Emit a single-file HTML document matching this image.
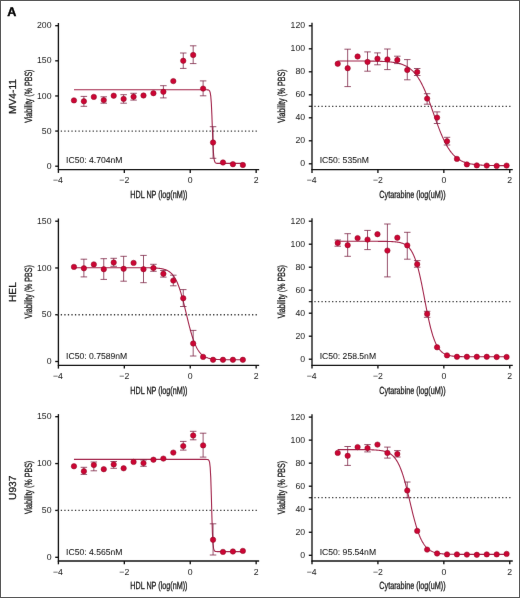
<!DOCTYPE html>
<html><head><meta charset="utf-8"><style>
html,body{margin:0;padding:0;background:#fff;}
body{width:520px;height:598px;overflow:hidden;position:relative;}
#frame{position:absolute;left:0;top:0;width:520px;height:598px;box-sizing:border-box;border:1px solid #575757;}
svg{position:absolute;left:0;top:0;will-change:transform;}
text{font-family:"Liberation Sans",sans-serif;fill:#1a1a1a;stroke:#1a1a1a;stroke-width:0.15px;text-rendering:geometricPrecision;}
.tick text{font-size:8.7px;stroke-width:0.02px;fill:#262626;}
.ttl{font-size:10.4px;stroke-width:0.32px;}
.cell{font-size:10.2px;stroke-width:0.25px;}
.ic{font-size:8.6px;stroke-width:0.08px;}
.lbl{font-size:12.6px;font-weight:bold;fill:#000;stroke:#000;stroke-width:0.4px;}
</style></head><body>
<svg width="520" height="598" viewBox="0 0 520 598">
<defs><filter id="b" x="0" y="0" width="520" height="598" filterUnits="userSpaceOnUse" color-interpolation-filters="sRGB"><feConvolveMatrix order="3" kernelMatrix="0.00163 0.03713 0.00163 0.03713 0.84497 0.03713 0.00163 0.03713 0.00163" divisor="1" edgeMode="none"/></filter></defs><g filter="url(#b)">
<text class="lbl" x="7.2" y="15.7">A</text>
<g stroke="#111111" stroke-width="1.35" fill="none"><line x1="58.4" y1="23" x2="58.4" y2="170.1"/><line x1="55.2" y1="166.2" x2="58.4" y2="166.2"/><line x1="55.2" y1="131.07" x2="58.4" y2="131.07"/><line x1="55.2" y1="95.95" x2="58.4" y2="95.95"/><line x1="55.2" y1="60.82" x2="58.4" y2="60.82"/><line x1="55.2" y1="25.7" x2="58.4" y2="25.7"/><line x1="57.9" y1="169.6" x2="259.16" y2="169.6"/><line x1="58.4" y1="169.6" x2="58.4" y2="172.9"/><line x1="124.32" y1="169.6" x2="124.32" y2="172.9"/><line x1="190.24" y1="169.6" x2="190.24" y2="172.9"/><line x1="256.16" y1="169.6" x2="256.16" y2="172.9"/></g>
<g class="tick"><text x="51.5" y="168.8" text-anchor="end">0</text><text x="51.5" y="133.67" text-anchor="end">50</text><text x="51.5" y="98.55" text-anchor="end">100</text><text x="51.5" y="63.42" text-anchor="end">150</text><text x="51.5" y="28.3" text-anchor="end">200</text><text x="58" y="183.4" text-anchor="middle">−4</text><text x="124.32" y="183.4" text-anchor="middle">−2</text><text x="190.24" y="183.4" text-anchor="middle">0</text><text x="256.16" y="183.4" text-anchor="middle">2</text></g>
<line x1="57.21" y1="131.07" x2="256.9" y2="131.07" stroke="#3a3a3a" stroke-width="1.3" stroke-dasharray="1.3 2.242"/>
<text class="ttl" x="130.28" y="197.8" textLength="57.2" lengthAdjust="spacingAndGlyphs">HDL NP (log(nM))</text>
<text class="ttl" transform="translate(31.5 96.2) rotate(-90)" x="-26.65" y="0" textLength="53.3" lengthAdjust="spacingAndGlyphs">Viability (% PBS)</text>
<text class="cell" transform="translate(16.1 96.5) rotate(-90)" text-anchor="middle">MV4-11</text>
<text class="ic" x="66.1" y="163.1">IC50: 4.704nM</text>
<polyline points="73.96,89.8 74.52,89.8 75.09,89.8 75.65,89.8 76.21,89.8 76.77,89.8 77.34,89.8 77.9,89.8 78.46,89.8 79.03,89.8 79.59,89.8 80.15,89.8 80.72,89.8 81.28,89.8 81.84,89.8 82.4,89.8 82.97,89.8 83.53,89.8 84.09,89.8 84.66,89.8 85.22,89.8 85.78,89.8 86.35,89.8 86.91,89.8 87.47,89.8 88.03,89.8 88.6,89.8 89.16,89.8 89.72,89.8 90.29,89.8 90.85,89.8 91.41,89.8 91.98,89.8 92.54,89.8 93.1,89.8 93.66,89.8 94.23,89.8 94.79,89.8 95.35,89.8 95.92,89.8 96.48,89.8 97.04,89.8 97.61,89.8 98.17,89.8 98.73,89.8 99.29,89.8 99.86,89.8 100.42,89.8 100.98,89.8 101.55,89.8 102.11,89.8 102.67,89.8 103.24,89.8 103.8,89.8 104.36,89.8 104.92,89.8 105.49,89.8 106.05,89.8 106.61,89.8 107.18,89.8 107.74,89.8 108.3,89.8 108.86,89.8 109.43,89.8 109.99,89.8 110.55,89.8 111.12,89.8 111.68,89.8 112.24,89.8 112.81,89.8 113.37,89.8 113.93,89.8 114.49,89.8 115.06,89.8 115.62,89.8 116.18,89.8 116.75,89.8 117.31,89.8 117.87,89.8 118.44,89.8 119,89.8 119.56,89.8 120.12,89.8 120.69,89.8 121.25,89.8 121.81,89.8 122.38,89.8 122.94,89.8 123.5,89.8 124.07,89.8 124.63,89.8 125.19,89.8 125.75,89.8 126.32,89.8 126.88,89.8 127.44,89.8 128.01,89.8 128.57,89.8 129.13,89.8 129.7,89.8 130.26,89.8 130.82,89.8 131.38,89.8 131.95,89.8 132.51,89.8 133.07,89.8 133.64,89.8 134.2,89.8 134.76,89.8 135.33,89.8 135.89,89.8 136.45,89.8 137.01,89.8 137.58,89.8 138.14,89.8 138.7,89.8 139.27,89.8 139.83,89.8 140.39,89.8 140.96,89.8 141.52,89.8 142.08,89.8 142.64,89.8 143.21,89.8 143.77,89.8 144.33,89.8 144.9,89.8 145.46,89.8 146.02,89.8 146.58,89.8 147.15,89.8 147.71,89.8 148.27,89.8 148.84,89.8 149.4,89.8 149.96,89.8 150.53,89.8 151.09,89.8 151.65,89.8 152.21,89.8 152.78,89.8 153.34,89.8 153.9,89.8 154.47,89.8 155.03,89.8 155.59,89.8 156.16,89.8 156.72,89.8 157.28,89.8 157.84,89.8 158.41,89.8 158.97,89.8 159.53,89.8 160.1,89.8 160.66,89.8 161.22,89.8 161.79,89.8 162.35,89.8 162.91,89.8 163.47,89.8 164.04,89.8 164.6,89.8 165.16,89.8 165.73,89.8 166.29,89.8 166.85,89.8 167.42,89.8 167.98,89.8 168.54,89.8 169.1,89.8 169.67,89.8 170.23,89.8 170.79,89.8 171.36,89.8 171.92,89.8 172.48,89.8 173.05,89.8 173.61,89.8 174.17,89.8 174.73,89.8 175.3,89.8 175.86,89.8 176.42,89.8 176.99,89.8 177.55,89.8 178.11,89.8 178.67,89.8 179.24,89.8 179.8,89.8 180.36,89.8 180.93,89.8 181.49,89.8 182.05,89.8 182.62,89.8 183.18,89.8 183.74,89.8 184.3,89.8 184.87,89.8 185.43,89.8 185.99,89.8 186.56,89.8 187.12,89.8 187.68,89.8 188.25,89.8 188.81,89.8 189.37,89.8 189.93,89.8 190.5,89.8 191.06,89.8 191.62,89.8 192.19,89.8 192.75,89.8 193.31,89.8 193.88,89.8 194.44,89.8 195,89.8 195.56,89.8 196.13,89.8 196.69,89.8 197.25,89.8 197.82,89.8 198.38,89.8 198.94,89.8 199.51,89.8 200.07,89.8 200.63,89.8 201.19,89.8 201.76,89.8 202.32,89.8 202.88,89.8 203.45,89.8 204.01,89.8 204.57,89.8 205.14,89.8 205.7,89.8 206.26,89.81 206.82,89.82 207.39,89.84 207.95,89.89 208.51,90.02 209.08,90.32 209.64,91.01 210.2,92.62 210.76,96.15 211.33,103.29 211.89,115.4 212.45,130.93 213.02,145.04 213.58,154.37 214.14,159.31 214.71,161.62 215.27,162.64 215.83,163.08 216.39,163.26 216.96,163.34 217.52,163.38 218.08,163.39 218.65,163.4 219.21,163.4 219.77,163.4 220.34,163.4 220.9,163.4 221.46,163.4 222.02,163.4 222.59,163.4 223.15,163.4 223.71,163.4 224.28,163.4 224.84,163.4 225.4,163.4 225.97,163.4 226.53,163.4 227.09,163.4 227.65,163.4 228.22,163.4 228.78,163.4 229.34,163.4 229.91,163.4 230.47,163.4 231.03,163.4 231.6,163.4 232.16,163.4 232.72,163.4 233.28,163.4 233.85,163.4 234.41,163.4 234.97,163.4 235.54,163.4 236.1,163.4 236.66,163.4 237.23,163.4 237.79,163.4 238.35,163.4 238.91,163.4 239.48,163.4 240.04,163.4 240.6,163.4 241.17,163.4 241.73,163.4 242.29,163.4 242.86,163.4" fill="none" stroke="#a2244a" stroke-width="1.1"/>
<path d="M83.89 96.4V106.3M80.64 96.4H87.14M80.64 106.3H87.14M103.76 96.8V103.2M100.51 96.8H107.01M100.51 103.2H107.01M123.63 94.7V103.2M120.38 94.7H126.88M120.38 103.2H126.88M133.57 93.3V100.1M130.32 93.3H136.82M130.32 100.1H136.82M163.38 85.7V97.9M160.12 85.7H166.62M160.12 97.9H166.62M183.25 53V68.4M180 53H186.5M180 68.4H186.5M193.18 45.8V63.6M189.93 45.8H196.43M189.93 63.6H196.43M203.12 80.9V95.8M199.87 80.9H206.37M199.87 95.8H206.37M213.05 126.7V158.3M209.8 126.7H216.3M209.8 158.3H216.3" stroke="#7e2646" stroke-width="0.8" fill="none"/>
<g fill="#cc0534" stroke="#900c29" stroke-width="0.55"><circle cx="73.96" cy="100.4" r="2.7"/><circle cx="83.89" cy="101.3" r="2.7"/><circle cx="93.83" cy="96.9" r="2.7"/><circle cx="103.76" cy="100.1" r="2.7"/><circle cx="113.7" cy="95.7" r="2.7"/><circle cx="123.63" cy="98.9" r="2.7"/><circle cx="133.57" cy="96.8" r="2.7"/><circle cx="143.5" cy="95.5" r="2.7"/><circle cx="153.44" cy="93.2" r="2.7"/><circle cx="163.38" cy="91.8" r="2.7"/><circle cx="173.31" cy="81.1" r="2.7"/><circle cx="183.25" cy="60.8" r="2.7"/><circle cx="193.18" cy="55" r="2.7"/><circle cx="203.12" cy="88.6" r="2.7"/><circle cx="213.05" cy="142.5" r="2.7"/><circle cx="222.99" cy="162.5" r="2.7"/><circle cx="232.92" cy="164.2" r="2.7"/><circle cx="242.86" cy="165" r="2.7"/></g>
<g stroke="#111111" stroke-width="1.35" fill="none"><line x1="312" y1="22.7" x2="312" y2="170.1"/><line x1="308.8" y1="163.8" x2="312" y2="163.8"/><line x1="308.8" y1="140.8" x2="312" y2="140.8"/><line x1="308.8" y1="117.8" x2="312" y2="117.8"/><line x1="308.8" y1="94.8" x2="312" y2="94.8"/><line x1="308.8" y1="71.8" x2="312" y2="71.8"/><line x1="308.8" y1="48.8" x2="312" y2="48.8"/><line x1="308.8" y1="25.8" x2="312" y2="25.8"/><line x1="311.5" y1="169.6" x2="512.76" y2="169.6"/><line x1="312" y1="169.6" x2="312" y2="172.9"/><line x1="377.92" y1="169.6" x2="377.92" y2="172.9"/><line x1="443.84" y1="169.6" x2="443.84" y2="172.9"/><line x1="509.76" y1="169.6" x2="509.76" y2="172.9"/></g>
<g class="tick"><text x="305.1" y="166.4" text-anchor="end">0</text><text x="305.1" y="143.4" text-anchor="end">20</text><text x="305.1" y="120.4" text-anchor="end">40</text><text x="305.1" y="97.4" text-anchor="end">60</text><text x="305.1" y="74.4" text-anchor="end">80</text><text x="305.1" y="51.4" text-anchor="end">100</text><text x="305.1" y="28.4" text-anchor="end">120</text><text x="311.6" y="183.4" text-anchor="middle">−4</text><text x="377.92" y="183.4" text-anchor="middle">−2</text><text x="443.84" y="183.4" text-anchor="middle">0</text><text x="509.76" y="183.4" text-anchor="middle">2</text></g>
<line x1="310.81" y1="106.3" x2="510.5" y2="106.3" stroke="#3a3a3a" stroke-width="1.3" stroke-dasharray="1.3 2.242"/>
<line x1="308.8" y1="106.3" x2="312" y2="106.3" stroke="#111111" stroke-width="1.1"/>
<text class="ttl" x="379.33" y="197.8" textLength="66.3" lengthAdjust="spacingAndGlyphs">Cytarabine (log(uM))</text>
<text class="ttl" transform="translate(285.1 96.05) rotate(-90)" x="-26.65" y="0" textLength="53.3" lengthAdjust="spacingAndGlyphs">Viability (% PBS)</text>
<text class="ic" x="319.7" y="163.1">IC50: 535nM</text>
<polyline points="337.72,61 338.28,61 338.85,61 339.41,61 339.97,61 340.53,61 341.1,61 341.66,61.01 342.22,61.01 342.79,61.01 343.35,61.01 343.91,61.01 344.48,61.01 345.04,61.01 345.6,61.01 346.16,61.01 346.73,61.01 347.29,61.01 347.85,61.01 348.42,61.01 348.98,61.01 349.54,61.01 350.11,61.01 350.67,61.01 351.23,61.01 351.79,61.02 352.36,61.02 352.92,61.02 353.48,61.02 354.05,61.02 354.61,61.02 355.17,61.02 355.74,61.02 356.3,61.02 356.86,61.03 357.42,61.03 357.99,61.03 358.55,61.03 359.11,61.03 359.68,61.04 360.24,61.04 360.8,61.04 361.37,61.04 361.93,61.05 362.49,61.05 363.05,61.05 363.62,61.05 364.18,61.06 364.74,61.06 365.31,61.06 365.87,61.07 366.43,61.07 367,61.08 367.56,61.08 368.12,61.09 368.68,61.09 369.25,61.1 369.81,61.11 370.37,61.11 370.94,61.12 371.5,61.13 372.06,61.13 372.62,61.14 373.19,61.15 373.75,61.16 374.31,61.17 374.88,61.18 375.44,61.19 376,61.21 376.57,61.22 377.13,61.23 377.69,61.25 378.25,61.26 378.82,61.28 379.38,61.3 379.94,61.32 380.51,61.34 381.07,61.36 381.63,61.38 382.2,61.4 382.76,61.43 383.32,61.46 383.88,61.48 384.45,61.51 385.01,61.55 385.57,61.58 386.14,61.62 386.7,61.66 387.26,61.7 387.83,61.74 388.39,61.79 388.95,61.83 389.51,61.89 390.08,61.94 390.64,62 391.2,62.06 391.77,62.13 392.33,62.2 392.89,62.27 393.46,62.35 394.02,62.44 394.58,62.53 395.14,62.62 395.71,62.72 396.27,62.83 396.83,62.94 397.4,63.06 397.96,63.18 398.52,63.32 399.09,63.46 399.65,63.61 400.21,63.77 400.77,63.94 401.34,64.12 401.9,64.31 402.46,64.51 403.03,64.72 403.59,64.95 404.15,65.19 404.72,65.44 405.28,65.71 405.84,65.99 406.4,66.29 406.97,66.6 407.53,66.93 408.09,67.28 408.66,67.65 409.22,68.04 409.78,68.46 410.34,68.89 410.91,69.35 411.47,69.83 412.03,70.33 412.6,70.86 413.16,71.42 413.72,72.01 414.29,72.62 414.85,73.27 415.41,73.94 415.97,74.65 416.54,75.39 417.1,76.16 417.66,76.97 418.23,77.81 418.79,78.69 419.35,79.61 419.92,80.56 420.48,81.55 421.04,82.57 421.6,83.63 422.17,84.73 422.73,85.87 423.29,87.05 423.86,88.26 424.42,89.5 424.98,90.79 425.55,92.1 426.11,93.45 426.67,94.83 427.23,96.24 427.8,97.68 428.36,99.15 428.92,100.64 429.49,102.15 430.05,103.68 430.61,105.23 431.18,106.8 431.74,108.37 432.3,109.96 432.86,111.55 433.43,113.14 433.99,114.74 434.55,116.33 435.12,117.92 435.68,119.5 436.24,121.07 436.81,122.62 437.37,124.16 437.93,125.67 438.49,127.17 439.06,128.64 439.62,130.09 440.18,131.51 440.75,132.89 441.31,134.25 441.87,135.58 442.43,136.87 443,138.12 443.56,139.34 444.12,140.53 444.69,141.68 445.25,142.79 445.81,143.86 446.38,144.89 446.94,145.89 447.5,146.85 448.06,147.77 448.63,148.66 449.19,149.51 449.75,150.33 450.32,151.11 450.88,151.86 451.44,152.58 452.01,153.26 452.57,153.91 453.13,154.54 453.69,155.13 454.26,155.7 454.82,156.23 455.38,156.75 455.95,157.23 456.51,157.7 457.07,158.13 457.64,158.55 458.2,158.95 458.76,159.32 459.32,159.68 459.89,160.01 460.45,160.33 461.01,160.64 461.58,160.92 462.14,161.19 462.7,161.45 463.27,161.69 463.83,161.92 464.39,162.13 464.95,162.34 465.52,162.53 466.08,162.71 466.64,162.88 467.21,163.05 467.77,163.2 468.33,163.34 468.9,163.48 469.46,163.61 470.02,163.73 470.58,163.85 471.15,163.95 471.71,164.05 472.27,164.15 472.84,164.24 473.4,164.33 473.96,164.41 474.52,164.48 475.09,164.55 475.65,164.62 476.21,164.68 476.78,164.74 477.34,164.8 477.9,164.85 478.47,164.9 479.03,164.95 479.59,164.99 480.15,165.03 480.72,165.07 481.28,165.11 481.84,165.15 482.41,165.18 482.97,165.21 483.53,165.24 484.1,165.26 484.66,165.29 485.22,165.31 485.78,165.34 486.35,165.36 486.91,165.38 487.47,165.4 488.04,165.42 488.6,165.43 489.16,165.45 489.73,165.46 490.29,165.48 490.85,165.49 491.41,165.5 491.98,165.51 492.54,165.53 493.1,165.54 493.67,165.55 494.23,165.55 494.79,165.56 495.36,165.57 495.92,165.58 496.48,165.59 497.04,165.59 497.61,165.6 498.17,165.6 498.73,165.61 499.3,165.62 499.86,165.62 500.42,165.63 500.99,165.63 501.55,165.63 502.11,165.64 502.67,165.64 503.24,165.65 503.8,165.65 504.36,165.65 504.93,165.65 505.49,165.66 506.05,165.66 506.62,165.66" fill="none" stroke="#a2244a" stroke-width="1.1"/>
<path d="M347.66 49.2V86.6M344.41 49.2H350.91M344.41 86.6H350.91M367.53 51.9V71.2M364.28 51.9H370.78M364.28 71.2H370.78M377.46 52.9V64.8M374.21 52.9H380.71M374.21 64.8H380.71M387.4 49V69.6M384.15 49H390.65M384.15 69.6H390.65M397.33 56.2V63.6M394.08 56.2H400.58M394.08 63.6H400.58M407.27 59.6V79.8M404.02 59.6H410.52M404.02 79.8H410.52M417.2 68.5V75.5M413.95 68.5H420.45M413.95 75.5H420.45M427.14 93.7V104.2M423.89 93.7H430.39M423.89 104.2H430.39M437.07 111.9V123.5M433.82 111.9H440.32M433.82 123.5H440.32M447.01 137.3V145M443.76 137.3H450.26M443.76 145H450.26" stroke="#7e2646" stroke-width="0.8" fill="none"/>
<g fill="#cc0534" stroke="#900c29" stroke-width="0.55"><circle cx="337.72" cy="63.8" r="2.7"/><circle cx="347.66" cy="68.2" r="2.7"/><circle cx="357.59" cy="56.5" r="2.7"/><circle cx="367.53" cy="61.9" r="2.7"/><circle cx="377.46" cy="58.7" r="2.7"/><circle cx="387.4" cy="59.4" r="2.7"/><circle cx="397.33" cy="60" r="2.7"/><circle cx="407.27" cy="70" r="2.7"/><circle cx="417.2" cy="72" r="2.7"/><circle cx="427.14" cy="98.6" r="2.7"/><circle cx="437.07" cy="117.6" r="2.7"/><circle cx="447.01" cy="141.3" r="2.7"/><circle cx="456.94" cy="158.9" r="2.7"/><circle cx="466.88" cy="164.4" r="2.7"/><circle cx="476.81" cy="165.4" r="2.7"/><circle cx="486.75" cy="165.6" r="2.7"/><circle cx="496.68" cy="165.9" r="2.7"/><circle cx="506.62" cy="165.6" r="2.7"/></g>
<g stroke="#111111" stroke-width="1.35" fill="none"><line x1="58.4" y1="218.5" x2="58.4" y2="365.8"/><line x1="55.2" y1="361.5" x2="58.4" y2="361.5"/><line x1="55.2" y1="314.73" x2="58.4" y2="314.73"/><line x1="55.2" y1="267.97" x2="58.4" y2="267.97"/><line x1="55.2" y1="221.2" x2="58.4" y2="221.2"/><line x1="57.9" y1="365.3" x2="259.16" y2="365.3"/><line x1="58.4" y1="365.3" x2="58.4" y2="368.6"/><line x1="124.32" y1="365.3" x2="124.32" y2="368.6"/><line x1="190.24" y1="365.3" x2="190.24" y2="368.6"/><line x1="256.16" y1="365.3" x2="256.16" y2="368.6"/></g>
<g class="tick"><text x="51.5" y="364.1" text-anchor="end">0</text><text x="51.5" y="317.33" text-anchor="end">50</text><text x="51.5" y="270.57" text-anchor="end">100</text><text x="51.5" y="223.8" text-anchor="end">150</text><text x="58" y="379.1" text-anchor="middle">−4</text><text x="124.32" y="379.1" text-anchor="middle">−2</text><text x="190.24" y="379.1" text-anchor="middle">0</text><text x="256.16" y="379.1" text-anchor="middle">2</text></g>
<line x1="57.21" y1="314.73" x2="256.9" y2="314.73" stroke="#3a3a3a" stroke-width="1.3" stroke-dasharray="1.3 2.242"/>
<text class="ttl" x="130.28" y="393.5" textLength="57.2" lengthAdjust="spacingAndGlyphs">HDL NP (log(nM))</text>
<text class="ttl" transform="translate(31.5 291.8) rotate(-90)" x="-26.65" y="0" textLength="53.3" lengthAdjust="spacingAndGlyphs">Viability (% PBS)</text>
<text class="cell" transform="translate(16.1 292.1) rotate(-90)" text-anchor="middle">HEL</text>
<text class="ic" x="66.1" y="358.8">IC50: 0.7589nM</text>
<polyline points="73.96,267.7 74.52,267.7 75.09,267.7 75.65,267.7 76.21,267.7 76.77,267.7 77.34,267.7 77.9,267.7 78.46,267.7 79.03,267.7 79.59,267.7 80.15,267.7 80.72,267.7 81.28,267.7 81.84,267.7 82.4,267.7 82.97,267.7 83.53,267.7 84.09,267.7 84.66,267.7 85.22,267.7 85.78,267.7 86.35,267.7 86.91,267.7 87.47,267.7 88.03,267.7 88.6,267.7 89.16,267.7 89.72,267.7 90.29,267.7 90.85,267.7 91.41,267.7 91.98,267.7 92.54,267.7 93.1,267.7 93.66,267.7 94.23,267.7 94.79,267.7 95.35,267.7 95.92,267.7 96.48,267.7 97.04,267.7 97.61,267.7 98.17,267.7 98.73,267.7 99.29,267.7 99.86,267.7 100.42,267.7 100.98,267.7 101.55,267.7 102.11,267.7 102.67,267.7 103.24,267.7 103.8,267.7 104.36,267.7 104.92,267.7 105.49,267.7 106.05,267.7 106.61,267.7 107.18,267.7 107.74,267.7 108.3,267.7 108.86,267.7 109.43,267.7 109.99,267.7 110.55,267.7 111.12,267.7 111.68,267.7 112.24,267.7 112.81,267.7 113.37,267.7 113.93,267.7 114.49,267.7 115.06,267.7 115.62,267.7 116.18,267.7 116.75,267.7 117.31,267.7 117.87,267.7 118.44,267.7 119,267.7 119.56,267.7 120.12,267.7 120.69,267.7 121.25,267.7 121.81,267.7 122.38,267.7 122.94,267.7 123.5,267.7 124.07,267.7 124.63,267.7 125.19,267.7 125.75,267.7 126.32,267.7 126.88,267.7 127.44,267.7 128.01,267.7 128.57,267.7 129.13,267.7 129.7,267.7 130.26,267.7 130.82,267.7 131.38,267.7 131.95,267.7 132.51,267.71 133.07,267.71 133.64,267.71 134.2,267.71 134.76,267.71 135.33,267.71 135.89,267.71 136.45,267.71 137.01,267.71 137.58,267.71 138.14,267.71 138.7,267.72 139.27,267.72 139.83,267.72 140.39,267.72 140.96,267.72 141.52,267.73 142.08,267.73 142.64,267.73 143.21,267.74 143.77,267.74 144.33,267.75 144.9,267.75 145.46,267.76 146.02,267.76 146.58,267.77 147.15,267.78 147.71,267.78 148.27,267.79 148.84,267.8 149.4,267.81 149.96,267.83 150.53,267.84 151.09,267.85 151.65,267.87 152.21,267.89 152.78,267.91 153.34,267.93 153.9,267.96 154.47,267.98 155.03,268.01 155.59,268.05 156.16,268.08 156.72,268.13 157.28,268.17 157.84,268.22 158.41,268.28 158.97,268.34 159.53,268.41 160.1,268.48 160.66,268.57 161.22,268.66 161.79,268.76 162.35,268.87 162.91,269 163.47,269.14 164.04,269.29 164.6,269.45 165.16,269.64 165.73,269.84 166.29,270.07 166.85,270.32 167.42,270.59 167.98,270.89 168.54,271.22 169.1,271.58 169.67,271.98 170.23,272.42 170.79,272.9 171.36,273.42 171.92,274 172.48,274.62 173.05,275.31 173.61,276.05 174.17,276.86 174.73,277.74 175.3,278.69 175.86,279.72 176.42,280.83 176.99,282.03 177.55,283.31 178.11,284.68 178.67,286.14 179.24,287.69 179.8,289.34 180.36,291.08 180.93,292.91 181.49,294.82 182.05,296.82 182.62,298.89 183.18,301.04 183.74,303.24 184.3,305.5 184.87,307.79 185.43,310.12 185.99,312.47 186.56,314.82 187.12,317.17 187.68,319.5 188.25,321.8 188.81,324.06 189.37,326.27 189.93,328.42 190.5,330.5 191.06,332.51 191.62,334.43 192.19,336.26 192.75,338.01 193.31,339.66 193.88,341.23 194.44,342.7 195,344.08 195.56,345.36 196.13,346.57 196.69,347.68 197.25,348.72 197.82,349.68 198.38,350.56 198.94,351.38 199.51,352.13 200.07,352.82 200.63,353.45 201.19,354.03 201.76,354.56 202.32,355.04 202.88,355.48 203.45,355.88 204.01,356.25 204.57,356.58 205.14,356.89 205.7,357.16 206.26,357.41 206.82,357.64 207.39,357.84 207.95,358.03 208.51,358.2 209.08,358.35 209.64,358.49 210.2,358.62 210.76,358.73 211.33,358.83 211.89,358.93 212.45,359.01 213.02,359.09 213.58,359.16 214.14,359.22 214.71,359.27 215.27,359.32 215.83,359.37 216.39,359.41 216.96,359.45 217.52,359.48 218.08,359.51 218.65,359.54 219.21,359.57 219.77,359.59 220.34,359.61 220.9,359.63 221.46,359.65 222.02,359.66 222.59,359.67 223.15,359.69 223.71,359.7 224.28,359.71 224.84,359.72 225.4,359.72 225.97,359.73 226.53,359.74 227.09,359.74 227.65,359.75 228.22,359.75 228.78,359.76 229.34,359.76 229.91,359.77 230.47,359.77 231.03,359.77 231.6,359.78 232.16,359.78 232.72,359.78 233.28,359.78 233.85,359.78 234.41,359.79 234.97,359.79 235.54,359.79 236.1,359.79 236.66,359.79 237.23,359.79 237.79,359.79 238.35,359.79 238.91,359.79 239.48,359.79 240.04,359.79 240.6,359.8 241.17,359.8 241.73,359.8 242.29,359.8 242.86,359.8" fill="none" stroke="#a2244a" stroke-width="1.1"/>
<path d="M83.89 259.2V276.9M80.64 259.2H87.14M80.64 276.9H87.14M103.76 258.7V279.4M100.51 258.7H107.01M100.51 279.4H107.01M113.7 258.3V266.3M110.45 258.3H116.95M110.45 266.3H116.95M123.63 256.3V281.2M120.38 256.3H126.88M120.38 281.2H126.88M143.5 255.4V282.7M140.25 255.4H146.75M140.25 282.7H146.75M153.44 264.3V271.3M150.19 264.3H156.69M150.19 271.3H156.69M163.38 270.5V277.1M160.12 270.5H166.62M160.12 277.1H166.62M173.31 275.2V285.8M170.06 275.2H176.56M170.06 285.8H176.56M183.25 289.6V306.5M180 289.6H186.5M180 306.5H186.5M193.18 330.4V356M189.93 330.4H196.43M189.93 356H196.43" stroke="#7e2646" stroke-width="0.8" fill="none"/>
<g fill="#cc0534" stroke="#900c29" stroke-width="0.55"><circle cx="73.96" cy="266.9" r="2.7"/><circle cx="83.89" cy="268.3" r="2.7"/><circle cx="93.83" cy="264.4" r="2.7"/><circle cx="103.76" cy="269.2" r="2.7"/><circle cx="113.7" cy="262.5" r="2.7"/><circle cx="123.63" cy="268.8" r="2.7"/><circle cx="133.57" cy="262.9" r="2.7"/><circle cx="143.5" cy="269.2" r="2.7"/><circle cx="153.44" cy="268" r="2.7"/><circle cx="163.38" cy="273.8" r="2.7"/><circle cx="173.31" cy="280.6" r="2.7"/><circle cx="183.25" cy="298.3" r="2.7"/><circle cx="193.18" cy="343.5" r="2.7"/><circle cx="203.12" cy="356.9" r="2.7"/><circle cx="213.05" cy="359.8" r="2.7"/><circle cx="222.99" cy="359.8" r="2.7"/><circle cx="232.92" cy="359.8" r="2.7"/><circle cx="242.86" cy="359.8" r="2.7"/></g>
<g stroke="#111111" stroke-width="1.35" fill="none"><line x1="312" y1="218.3" x2="312" y2="365.8"/><line x1="308.8" y1="359.2" x2="312" y2="359.2"/><line x1="308.8" y1="336.2" x2="312" y2="336.2"/><line x1="308.8" y1="313.2" x2="312" y2="313.2"/><line x1="308.8" y1="290.2" x2="312" y2="290.2"/><line x1="308.8" y1="267.2" x2="312" y2="267.2"/><line x1="308.8" y1="244.2" x2="312" y2="244.2"/><line x1="308.8" y1="221.2" x2="312" y2="221.2"/><line x1="311.5" y1="365.3" x2="512.76" y2="365.3"/><line x1="312" y1="365.3" x2="312" y2="368.6"/><line x1="377.92" y1="365.3" x2="377.92" y2="368.6"/><line x1="443.84" y1="365.3" x2="443.84" y2="368.6"/><line x1="509.76" y1="365.3" x2="509.76" y2="368.6"/></g>
<g class="tick"><text x="305.1" y="361.8" text-anchor="end">0</text><text x="305.1" y="338.8" text-anchor="end">20</text><text x="305.1" y="315.8" text-anchor="end">40</text><text x="305.1" y="292.8" text-anchor="end">60</text><text x="305.1" y="269.8" text-anchor="end">80</text><text x="305.1" y="246.8" text-anchor="end">100</text><text x="305.1" y="223.8" text-anchor="end">120</text><text x="311.6" y="379.1" text-anchor="middle">−4</text><text x="377.92" y="379.1" text-anchor="middle">−2</text><text x="443.84" y="379.1" text-anchor="middle">0</text><text x="509.76" y="379.1" text-anchor="middle">2</text></g>
<line x1="310.81" y1="301.7" x2="510.5" y2="301.7" stroke="#3a3a3a" stroke-width="1.3" stroke-dasharray="1.3 2.242"/>
<line x1="308.8" y1="301.7" x2="312" y2="301.7" stroke="#111111" stroke-width="1.1"/>
<text class="ttl" x="379.33" y="393.5" textLength="66.3" lengthAdjust="spacingAndGlyphs">Cytarabine (log(uM))</text>
<text class="ttl" transform="translate(285.1 291.7) rotate(-90)" x="-26.65" y="0" textLength="53.3" lengthAdjust="spacingAndGlyphs">Viability (% PBS)</text>
<text class="ic" x="319.7" y="358.8">IC50: 258.5nM</text>
<polyline points="337.72,241.3 338.28,241.3 338.85,241.3 339.41,241.3 339.97,241.3 340.53,241.3 341.1,241.3 341.66,241.3 342.22,241.3 342.79,241.3 343.35,241.3 343.91,241.3 344.48,241.3 345.04,241.3 345.6,241.3 346.16,241.3 346.73,241.3 347.29,241.3 347.85,241.3 348.42,241.3 348.98,241.3 349.54,241.3 350.11,241.3 350.67,241.3 351.23,241.3 351.79,241.3 352.36,241.3 352.92,241.3 353.48,241.3 354.05,241.3 354.61,241.3 355.17,241.3 355.74,241.3 356.3,241.3 356.86,241.3 357.42,241.3 357.99,241.3 358.55,241.3 359.11,241.3 359.68,241.3 360.24,241.3 360.8,241.3 361.37,241.3 361.93,241.3 362.49,241.3 363.05,241.3 363.62,241.3 364.18,241.3 364.74,241.3 365.31,241.3 365.87,241.3 366.43,241.3 367,241.3 367.56,241.3 368.12,241.3 368.68,241.3 369.25,241.3 369.81,241.31 370.37,241.31 370.94,241.31 371.5,241.31 372.06,241.31 372.62,241.31 373.19,241.31 373.75,241.31 374.31,241.31 374.88,241.31 375.44,241.32 376,241.32 376.57,241.32 377.13,241.32 377.69,241.32 378.25,241.33 378.82,241.33 379.38,241.33 379.94,241.33 380.51,241.34 381.07,241.34 381.63,241.35 382.2,241.35 382.76,241.36 383.32,241.36 383.88,241.37 384.45,241.38 385.01,241.39 385.57,241.4 386.14,241.41 386.7,241.42 387.26,241.43 387.83,241.44 388.39,241.46 388.95,241.48 389.51,241.5 390.08,241.52 390.64,241.54 391.2,241.57 391.77,241.6 392.33,241.63 392.89,241.66 393.46,241.7 394.02,241.75 394.58,241.79 395.14,241.85 395.71,241.9 396.27,241.97 396.83,242.04 397.4,242.12 397.96,242.21 398.52,242.3 399.09,242.41 399.65,242.53 400.21,242.66 400.77,242.8 401.34,242.96 401.9,243.14 402.46,243.34 403.03,243.55 403.59,243.79 404.15,244.05 404.72,244.34 405.28,244.65 405.84,245 406.4,245.39 406.97,245.81 407.53,246.28 408.09,246.79 408.66,247.35 409.22,247.96 409.78,248.63 410.34,249.37 410.91,250.17 411.47,251.04 412.03,251.99 412.6,253.03 413.16,254.15 413.72,255.37 414.29,256.68 414.85,258.09 415.41,259.61 415.97,261.25 416.54,262.99 417.1,264.85 417.66,266.82 418.23,268.92 418.79,271.12 419.35,273.44 419.92,275.86 420.48,278.39 421.04,281.01 421.6,283.72 422.17,286.5 422.73,289.34 423.29,292.23 423.86,295.16 424.42,298.1 424.98,301.05 425.55,304 426.11,306.91 426.67,309.79 427.23,312.61 427.8,315.36 428.36,318.04 428.92,320.63 429.49,323.12 430.05,325.5 430.61,327.78 431.18,329.95 431.74,332 432.3,333.93 432.86,335.75 433.43,337.45 433.99,339.04 434.55,340.53 435.12,341.9 435.68,343.18 436.24,344.36 436.81,345.45 437.37,346.46 437.93,347.38 438.49,348.23 439.06,349 439.62,349.72 440.18,350.37 440.75,350.96 441.31,351.5 441.87,352 442.43,352.44 443,352.85 443.56,353.23 444.12,353.56 444.69,353.87 445.25,354.15 445.81,354.4 446.38,354.63 446.94,354.84 447.5,355.02 448.06,355.19 448.63,355.35 449.19,355.49 449.75,355.61 450.32,355.73 450.88,355.83 451.44,355.93 452.01,356.01 452.57,356.09 453.13,356.16 453.69,356.22 454.26,356.27 454.82,356.32 455.38,356.37 455.95,356.41 456.51,356.45 457.07,356.48 457.64,356.51 458.2,356.54 458.76,356.57 459.32,356.59 459.89,356.61 460.45,356.63 461.01,356.65 461.58,356.66 462.14,356.67 462.7,356.69 463.27,356.7 463.83,356.71 464.39,356.72 464.95,356.72 465.52,356.73 466.08,356.74 466.64,356.74 467.21,356.75 467.77,356.75 468.33,356.76 468.9,356.76 469.46,356.77 470.02,356.77 470.58,356.77 471.15,356.78 471.71,356.78 472.27,356.78 472.84,356.78 473.4,356.78 473.96,356.79 474.52,356.79 475.09,356.79 475.65,356.79 476.21,356.79 476.78,356.79 477.34,356.79 477.9,356.79 478.47,356.79 479.03,356.79 479.59,356.79 480.15,356.8 480.72,356.8 481.28,356.8 481.84,356.8 482.41,356.8 482.97,356.8 483.53,356.8 484.1,356.8 484.66,356.8 485.22,356.8 485.78,356.8 486.35,356.8 486.91,356.8 487.47,356.8 488.04,356.8 488.6,356.8 489.16,356.8 489.73,356.8 490.29,356.8 490.85,356.8 491.41,356.8 491.98,356.8 492.54,356.8 493.1,356.8 493.67,356.8 494.23,356.8 494.79,356.8 495.36,356.8 495.92,356.8 496.48,356.8 497.04,356.8 497.61,356.8 498.17,356.8 498.73,356.8 499.3,356.8 499.86,356.8 500.42,356.8 500.99,356.8 501.55,356.8 502.11,356.8 502.67,356.8 503.24,356.8 503.8,356.8 504.36,356.8 504.93,356.8 505.49,356.8 506.05,356.8 506.62,356.8" fill="none" stroke="#a2244a" stroke-width="1.1"/>
<path d="M337.72 240V246.2M334.47 240H340.97M334.47 246.2H340.97M347.66 233.7V256.3M344.41 233.7H350.91M344.41 256.3H350.91M367.53 230.4V249.6M364.28 230.4H370.78M364.28 249.6H370.78M387.4 224V276.9M384.15 224H390.65M384.15 276.9H390.65M407.27 232.3V259.2M404.02 232.3H410.52M404.02 259.2H410.52M417.2 260.6V267.2M413.95 260.6H420.45M413.95 267.2H420.45M427.14 311.3V317.3M423.89 311.3H430.39M423.89 317.3H430.39" stroke="#7e2646" stroke-width="0.8" fill="none"/>
<g fill="#cc0534" stroke="#900c29" stroke-width="0.55"><circle cx="337.72" cy="242.9" r="2.7"/><circle cx="347.66" cy="245.2" r="2.7"/><circle cx="357.59" cy="238.1" r="2.7"/><circle cx="367.53" cy="239.6" r="2.7"/><circle cx="377.46" cy="234.2" r="2.7"/><circle cx="387.4" cy="250.6" r="2.7"/><circle cx="397.33" cy="237.7" r="2.7"/><circle cx="407.27" cy="245.4" r="2.7"/><circle cx="417.2" cy="264.2" r="2.7"/><circle cx="427.14" cy="313.9" r="2.7"/><circle cx="437.07" cy="347.3" r="2.7"/><circle cx="447.01" cy="355.4" r="2.7"/><circle cx="456.94" cy="356.8" r="2.7"/><circle cx="466.88" cy="356.8" r="2.7"/><circle cx="476.81" cy="356.8" r="2.7"/><circle cx="486.75" cy="356.8" r="2.7"/><circle cx="496.68" cy="357" r="2.7"/><circle cx="506.62" cy="357" r="2.7"/></g>
<g stroke="#111111" stroke-width="1.35" fill="none"><line x1="58.4" y1="414.1" x2="58.4" y2="561.5"/><line x1="55.2" y1="557.3" x2="58.4" y2="557.3"/><line x1="55.2" y1="510.43" x2="58.4" y2="510.43"/><line x1="55.2" y1="463.57" x2="58.4" y2="463.57"/><line x1="55.2" y1="416.7" x2="58.4" y2="416.7"/><line x1="57.9" y1="561" x2="259.16" y2="561"/><line x1="58.4" y1="561" x2="58.4" y2="564.3"/><line x1="124.32" y1="561" x2="124.32" y2="564.3"/><line x1="190.24" y1="561" x2="190.24" y2="564.3"/><line x1="256.16" y1="561" x2="256.16" y2="564.3"/></g>
<g class="tick"><text x="51.5" y="559.9" text-anchor="end">0</text><text x="51.5" y="513.03" text-anchor="end">50</text><text x="51.5" y="466.17" text-anchor="end">100</text><text x="51.5" y="419.3" text-anchor="end">150</text><text x="58" y="574.8" text-anchor="middle">−4</text><text x="124.32" y="574.8" text-anchor="middle">−2</text><text x="190.24" y="574.8" text-anchor="middle">0</text><text x="256.16" y="574.8" text-anchor="middle">2</text></g>
<line x1="57.21" y1="510.43" x2="256.9" y2="510.43" stroke="#3a3a3a" stroke-width="1.3" stroke-dasharray="1.3 2.242"/>
<text class="ttl" x="130.28" y="589.2" textLength="57.2" lengthAdjust="spacingAndGlyphs">HDL NP (log(nM))</text>
<text class="ttl" transform="translate(31.5 487.45) rotate(-90)" x="-26.65" y="0" textLength="53.3" lengthAdjust="spacingAndGlyphs">Viability (% PBS)</text>
<text class="cell" transform="translate(16.1 487.75) rotate(-90)" text-anchor="middle">U937</text>
<text class="ic" x="66.1" y="554.5">IC50: 4.565nM</text>
<polyline points="73.96,459.4 74.52,459.4 75.09,459.4 75.65,459.4 76.21,459.4 76.77,459.4 77.34,459.4 77.9,459.4 78.46,459.4 79.03,459.4 79.59,459.4 80.15,459.4 80.72,459.4 81.28,459.4 81.84,459.4 82.4,459.4 82.97,459.4 83.53,459.4 84.09,459.4 84.66,459.4 85.22,459.4 85.78,459.4 86.35,459.4 86.91,459.4 87.47,459.4 88.03,459.4 88.6,459.4 89.16,459.4 89.72,459.4 90.29,459.4 90.85,459.4 91.41,459.4 91.98,459.4 92.54,459.4 93.1,459.4 93.66,459.4 94.23,459.4 94.79,459.4 95.35,459.4 95.92,459.4 96.48,459.4 97.04,459.4 97.61,459.4 98.17,459.4 98.73,459.4 99.29,459.4 99.86,459.4 100.42,459.4 100.98,459.4 101.55,459.4 102.11,459.4 102.67,459.4 103.24,459.4 103.8,459.4 104.36,459.4 104.92,459.4 105.49,459.4 106.05,459.4 106.61,459.4 107.18,459.4 107.74,459.4 108.3,459.4 108.86,459.4 109.43,459.4 109.99,459.4 110.55,459.4 111.12,459.4 111.68,459.4 112.24,459.4 112.81,459.4 113.37,459.4 113.93,459.4 114.49,459.4 115.06,459.4 115.62,459.4 116.18,459.4 116.75,459.4 117.31,459.4 117.87,459.4 118.44,459.4 119,459.4 119.56,459.4 120.12,459.4 120.69,459.4 121.25,459.4 121.81,459.4 122.38,459.4 122.94,459.4 123.5,459.4 124.07,459.4 124.63,459.4 125.19,459.4 125.75,459.4 126.32,459.4 126.88,459.4 127.44,459.4 128.01,459.4 128.57,459.4 129.13,459.4 129.7,459.4 130.26,459.4 130.82,459.4 131.38,459.4 131.95,459.4 132.51,459.4 133.07,459.4 133.64,459.4 134.2,459.4 134.76,459.4 135.33,459.4 135.89,459.4 136.45,459.4 137.01,459.4 137.58,459.4 138.14,459.4 138.7,459.4 139.27,459.4 139.83,459.4 140.39,459.4 140.96,459.4 141.52,459.4 142.08,459.4 142.64,459.4 143.21,459.4 143.77,459.4 144.33,459.4 144.9,459.4 145.46,459.4 146.02,459.4 146.58,459.4 147.15,459.4 147.71,459.4 148.27,459.4 148.84,459.4 149.4,459.4 149.96,459.4 150.53,459.4 151.09,459.4 151.65,459.4 152.21,459.4 152.78,459.4 153.34,459.4 153.9,459.4 154.47,459.4 155.03,459.4 155.59,459.4 156.16,459.4 156.72,459.4 157.28,459.4 157.84,459.4 158.41,459.4 158.97,459.4 159.53,459.4 160.1,459.4 160.66,459.4 161.22,459.4 161.79,459.4 162.35,459.4 162.91,459.4 163.47,459.4 164.04,459.4 164.6,459.4 165.16,459.4 165.73,459.4 166.29,459.4 166.85,459.4 167.42,459.4 167.98,459.4 168.54,459.4 169.1,459.4 169.67,459.4 170.23,459.4 170.79,459.4 171.36,459.4 171.92,459.4 172.48,459.4 173.05,459.4 173.61,459.4 174.17,459.4 174.73,459.4 175.3,459.4 175.86,459.4 176.42,459.4 176.99,459.4 177.55,459.4 178.11,459.4 178.67,459.4 179.24,459.4 179.8,459.4 180.36,459.4 180.93,459.4 181.49,459.4 182.05,459.4 182.62,459.4 183.18,459.4 183.74,459.4 184.3,459.4 184.87,459.4 185.43,459.4 185.99,459.4 186.56,459.4 187.12,459.4 187.68,459.4 188.25,459.4 188.81,459.4 189.37,459.4 189.93,459.4 190.5,459.4 191.06,459.4 191.62,459.4 192.19,459.4 192.75,459.4 193.31,459.4 193.88,459.4 194.44,459.4 195,459.4 195.56,459.4 196.13,459.4 196.69,459.4 197.25,459.4 197.82,459.4 198.38,459.4 198.94,459.4 199.51,459.4 200.07,459.4 200.63,459.4 201.19,459.4 201.76,459.4 202.32,459.4 202.88,459.4 203.45,459.4 204.01,459.4 204.57,459.4 205.14,459.4 205.7,459.4 206.26,459.41 206.82,459.43 207.39,459.48 207.95,459.6 208.51,459.92 209.08,460.72 209.64,462.72 210.2,467.47 210.76,477.64 211.33,495.16 211.89,516.53 212.45,533.82 213.02,543.76 213.58,548.38 214.14,550.32 214.71,551.1 215.27,551.4 215.83,551.52 216.39,551.57 216.96,551.59 217.52,551.6 218.08,551.6 218.65,551.6 219.21,551.6 219.77,551.6 220.34,551.6 220.9,551.6 221.46,551.6 222.02,551.6 222.59,551.6 223.15,551.6 223.71,551.6 224.28,551.6 224.84,551.6 225.4,551.6 225.97,551.6 226.53,551.6 227.09,551.6 227.65,551.6 228.22,551.6 228.78,551.6 229.34,551.6 229.91,551.6 230.47,551.6 231.03,551.6 231.6,551.6 232.16,551.6 232.72,551.6 233.28,551.6 233.85,551.6 234.41,551.6 234.97,551.6 235.54,551.6 236.1,551.6 236.66,551.6 237.23,551.6 237.79,551.6 238.35,551.6 238.91,551.6 239.48,551.6 240.04,551.6 240.6,551.6 241.17,551.6 241.73,551.6 242.29,551.6 242.86,551.6" fill="none" stroke="#a2244a" stroke-width="1.1"/>
<path d="M83.89 467.3V474.4M80.64 467.3H87.14M80.64 474.4H87.14M93.83 462V470.8M90.58 462H97.08M90.58 470.8H97.08M113.7 461.5V468.3M110.45 461.5H116.95M110.45 468.3H116.95M143.5 460V466.3M140.25 460H146.75M140.25 466.3H146.75M183.25 441.4V450.1M180 441.4H186.5M180 450.1H186.5M193.18 431.3V439.8M189.93 431.3H196.43M189.93 439.8H196.43M203.12 433.2V457.1M199.87 433.2H206.37M199.87 457.1H206.37M213.05 523.8V555M209.8 523.8H216.3M209.8 555H216.3" stroke="#7e2646" stroke-width="0.8" fill="none"/>
<g fill="#cc0534" stroke="#900c29" stroke-width="0.55"><circle cx="73.96" cy="466.3" r="2.7"/><circle cx="83.89" cy="471.2" r="2.7"/><circle cx="93.83" cy="465" r="2.7"/><circle cx="103.76" cy="469.2" r="2.7"/><circle cx="113.7" cy="464.4" r="2.7"/><circle cx="123.63" cy="468.3" r="2.7"/><circle cx="133.57" cy="461.9" r="2.7"/><circle cx="143.5" cy="463.1" r="2.7"/><circle cx="153.44" cy="459.7" r="2.7"/><circle cx="163.38" cy="458.6" r="2.7"/><circle cx="173.31" cy="452.6" r="2.7"/><circle cx="183.25" cy="446.1" r="2.7"/><circle cx="193.18" cy="435.5" r="2.7"/><circle cx="203.12" cy="445.4" r="2.7"/><circle cx="213.05" cy="539.8" r="2.7"/><circle cx="222.99" cy="551.9" r="2.7"/><circle cx="232.92" cy="551.5" r="2.7"/><circle cx="242.86" cy="550.9" r="2.7"/></g>
<g stroke="#111111" stroke-width="1.35" fill="none"><line x1="312" y1="414.2" x2="312" y2="561.5"/><line x1="308.8" y1="555.3" x2="312" y2="555.3"/><line x1="308.8" y1="532.27" x2="312" y2="532.27"/><line x1="308.8" y1="509.23" x2="312" y2="509.23"/><line x1="308.8" y1="486.2" x2="312" y2="486.2"/><line x1="308.8" y1="463.17" x2="312" y2="463.17"/><line x1="308.8" y1="440.13" x2="312" y2="440.13"/><line x1="308.8" y1="417.1" x2="312" y2="417.1"/><line x1="311.5" y1="561" x2="512.76" y2="561"/><line x1="312" y1="561" x2="312" y2="564.3"/><line x1="377.92" y1="561" x2="377.92" y2="564.3"/><line x1="443.84" y1="561" x2="443.84" y2="564.3"/><line x1="509.76" y1="561" x2="509.76" y2="564.3"/></g>
<g class="tick"><text x="305.1" y="557.9" text-anchor="end">0</text><text x="305.1" y="534.87" text-anchor="end">20</text><text x="305.1" y="511.83" text-anchor="end">40</text><text x="305.1" y="488.8" text-anchor="end">60</text><text x="305.1" y="465.77" text-anchor="end">80</text><text x="305.1" y="442.73" text-anchor="end">100</text><text x="305.1" y="419.7" text-anchor="end">120</text><text x="311.6" y="574.8" text-anchor="middle">−4</text><text x="377.92" y="574.8" text-anchor="middle">−2</text><text x="443.84" y="574.8" text-anchor="middle">0</text><text x="509.76" y="574.8" text-anchor="middle">2</text></g>
<line x1="310.81" y1="497.72" x2="510.5" y2="497.72" stroke="#3a3a3a" stroke-width="1.3" stroke-dasharray="1.3 2.242"/>
<line x1="308.8" y1="497.72" x2="312" y2="497.72" stroke="#111111" stroke-width="1.1"/>
<text class="ttl" x="379.33" y="589.2" textLength="66.3" lengthAdjust="spacingAndGlyphs">Cytarabine (log(uM))</text>
<text class="ttl" transform="translate(285.1 487.5) rotate(-90)" x="-26.65" y="0" textLength="53.3" lengthAdjust="spacingAndGlyphs">Viability (% PBS)</text>
<text class="ic" x="319.7" y="554.5">IC50: 95.54nM</text>
<polyline points="337.72,449.6 338.28,449.6 338.85,449.6 339.41,449.6 339.97,449.6 340.53,449.6 341.1,449.6 341.66,449.6 342.22,449.6 342.79,449.6 343.35,449.6 343.91,449.6 344.48,449.6 345.04,449.6 345.6,449.6 346.16,449.6 346.73,449.6 347.29,449.6 347.85,449.6 348.42,449.61 348.98,449.61 349.54,449.61 350.11,449.61 350.67,449.61 351.23,449.61 351.79,449.61 352.36,449.61 352.92,449.61 353.48,449.61 354.05,449.61 354.61,449.61 355.17,449.62 355.74,449.62 356.3,449.62 356.86,449.62 357.42,449.62 357.99,449.62 358.55,449.63 359.11,449.63 359.68,449.63 360.24,449.64 360.8,449.64 361.37,449.64 361.93,449.65 362.49,449.65 363.05,449.66 363.62,449.66 364.18,449.67 364.74,449.67 365.31,449.68 365.87,449.69 366.43,449.7 367,449.7 367.56,449.71 368.12,449.73 368.68,449.74 369.25,449.75 369.81,449.76 370.37,449.78 370.94,449.8 371.5,449.82 372.06,449.84 372.62,449.86 373.19,449.88 373.75,449.91 374.31,449.94 374.88,449.97 375.44,450 376,450.04 376.57,450.08 377.13,450.13 377.69,450.18 378.25,450.23 378.82,450.29 379.38,450.36 379.94,450.43 380.51,450.51 381.07,450.59 381.63,450.69 382.2,450.79 382.76,450.9 383.32,451.02 383.88,451.15 384.45,451.3 385.01,451.46 385.57,451.63 386.14,451.82 386.7,452.02 387.26,452.25 387.83,452.49 388.39,452.76 388.95,453.04 389.51,453.36 390.08,453.7 390.64,454.07 391.2,454.48 391.77,454.91 392.33,455.39 392.89,455.9 393.46,456.46 394.02,457.07 394.58,457.72 395.14,458.42 395.71,459.18 396.27,460 396.83,460.88 397.4,461.82 397.96,462.83 398.52,463.91 399.09,465.07 399.65,466.3 400.21,467.61 400.77,468.99 401.34,470.47 401.9,472.02 402.46,473.65 403.03,475.37 403.59,477.17 404.15,479.05 404.72,481 405.28,483.02 405.84,485.12 406.4,487.27 406.97,489.48 407.53,491.74 408.09,494.03 408.66,496.36 409.22,498.72 409.78,501.08 410.34,503.45 410.91,505.82 411.47,508.16 412.03,510.49 412.6,512.78 413.16,515.02 413.72,517.22 414.29,519.36 414.85,521.44 415.41,523.45 415.97,525.38 416.54,527.24 417.1,529.02 417.66,530.72 418.23,532.34 418.79,533.87 419.35,535.32 419.92,536.7 420.48,537.99 421.04,539.2 421.6,540.34 422.17,541.4 422.73,542.4 423.29,543.33 423.86,544.19 424.42,545 424.98,545.74 425.55,546.43 426.11,547.07 426.67,547.67 427.23,548.22 427.8,548.72 428.36,549.19 428.92,549.62 429.49,550.01 430.05,550.38 430.61,550.71 431.18,551.02 431.74,551.31 432.3,551.57 432.86,551.81 433.43,552.03 433.99,552.23 434.55,552.41 435.12,552.58 435.68,552.73 436.24,552.88 436.81,553.01 437.37,553.13 437.93,553.23 438.49,553.33 439.06,553.43 439.62,553.51 440.18,553.59 440.75,553.66 441.31,553.72 441.87,553.78 442.43,553.83 443,553.88 443.56,553.93 444.12,553.97 444.69,554 445.25,554.04 445.81,554.07 446.38,554.1 446.94,554.12 447.5,554.15 448.06,554.17 448.63,554.19 449.19,554.21 449.75,554.22 450.32,554.24 450.88,554.25 451.44,554.27 452.01,554.28 452.57,554.29 453.13,554.3 453.69,554.31 454.26,554.31 454.82,554.32 455.38,554.33 455.95,554.33 456.51,554.34 457.07,554.35 457.64,554.35 458.2,554.35 458.76,554.36 459.32,554.36 459.89,554.37 460.45,554.37 461.01,554.37 461.58,554.37 462.14,554.38 462.7,554.38 463.27,554.38 463.83,554.38 464.39,554.38 464.95,554.38 465.52,554.39 466.08,554.39 466.64,554.39 467.21,554.39 467.77,554.39 468.33,554.39 468.9,554.39 469.46,554.39 470.02,554.39 470.58,554.39 471.15,554.39 471.71,554.39 472.27,554.4 472.84,554.4 473.4,554.4 473.96,554.4 474.52,554.4 475.09,554.4 475.65,554.4 476.21,554.4 476.78,554.4 477.34,554.4 477.9,554.4 478.47,554.4 479.03,554.4 479.59,554.4 480.15,554.4 480.72,554.4 481.28,554.4 481.84,554.4 482.41,554.4 482.97,554.4 483.53,554.4 484.1,554.4 484.66,554.4 485.22,554.4 485.78,554.4 486.35,554.4 486.91,554.4 487.47,554.4 488.04,554.4 488.6,554.4 489.16,554.4 489.73,554.4 490.29,554.4 490.85,554.4 491.41,554.4 491.98,554.4 492.54,554.4 493.1,554.4 493.67,554.4 494.23,554.4 494.79,554.4 495.36,554.4 495.92,554.4 496.48,554.4 497.04,554.4 497.61,554.4 498.17,554.4 498.73,554.4 499.3,554.4 499.86,554.4 500.42,554.4 500.99,554.4 501.55,554.4 502.11,554.4 502.67,554.4 503.24,554.4 503.8,554.4 504.36,554.4 504.93,554.4 505.49,554.4 506.05,554.4 506.62,554.4" fill="none" stroke="#a2244a" stroke-width="1.1"/>
<path d="M347.66 446.5V465.4M344.41 446.5H350.91M344.41 465.4H350.91M367.53 444.6V451.9M364.28 444.6H370.78M364.28 451.9H370.78M387.4 447.1V458.1M384.15 447.1H390.65M384.15 458.1H390.65M397.33 450.6V457M394.08 450.6H400.58M394.08 457H400.58M407.27 482V497.7M404.02 482H410.52M404.02 497.7H410.52" stroke="#7e2646" stroke-width="0.8" fill="none"/>
<g fill="#cc0534" stroke="#900c29" stroke-width="0.55"><circle cx="337.72" cy="452.9" r="2.7"/><circle cx="347.66" cy="455.8" r="2.7"/><circle cx="357.59" cy="447.1" r="2.7"/><circle cx="367.53" cy="448.1" r="2.7"/><circle cx="377.46" cy="444.6" r="2.7"/><circle cx="387.4" cy="452.9" r="2.7"/><circle cx="397.33" cy="454" r="2.7"/><circle cx="407.27" cy="490.5" r="2.7"/><circle cx="417.2" cy="530.9" r="2.7"/><circle cx="427.14" cy="549.6" r="2.7"/><circle cx="437.07" cy="553.5" r="2.7"/><circle cx="447.01" cy="554.4" r="2.7"/><circle cx="456.94" cy="554.4" r="2.7"/><circle cx="466.88" cy="554.6" r="2.7"/><circle cx="476.81" cy="554.8" r="2.7"/><circle cx="486.75" cy="554.4" r="2.7"/><circle cx="496.68" cy="554.4" r="2.7"/><circle cx="506.62" cy="553.9" r="2.7"/></g>
</g>
</svg>
<div id="frame"></div>
</body></html>
